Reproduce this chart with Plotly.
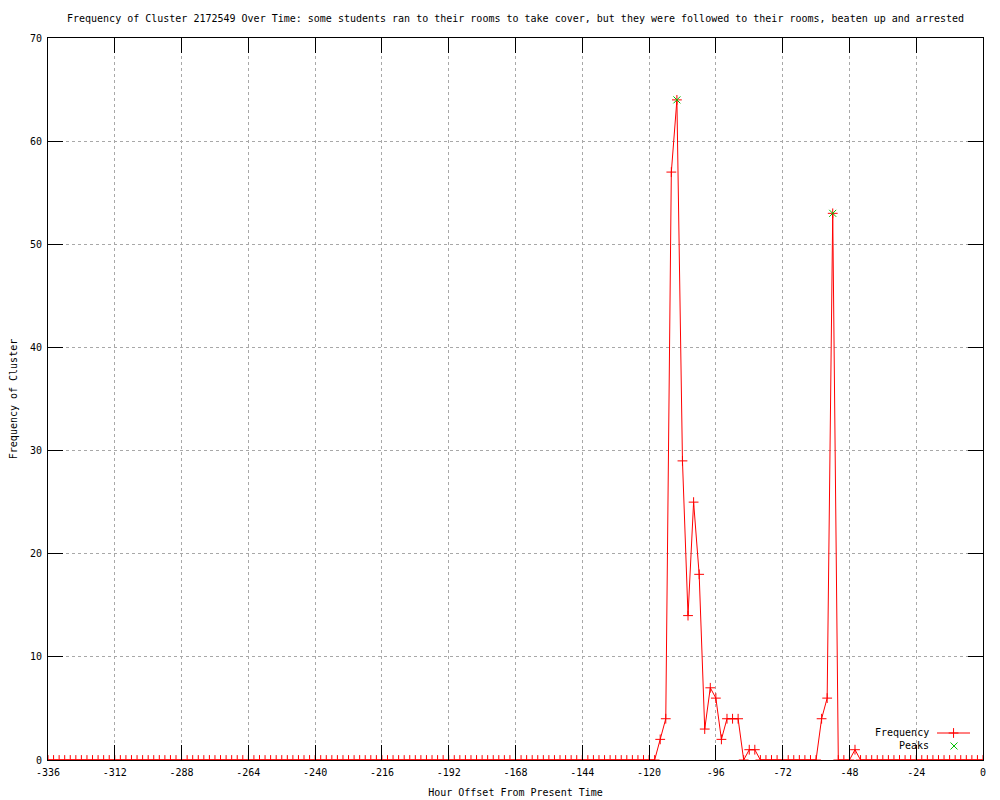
import plotly.graph_objects as go

# ---- data ----
hours = list(range(-336, 1, 2))  # one sample every 2 hours, -336 .. 0
frequency = [
    0, 0, 0, 0, 0, 0, 0, 0, 0, 0,   # -336 .. -318
    0, 0, 0, 0, 0, 0, 0, 0, 0, 0,   # -316 .. -298
    0, 0, 0, 0, 0, 0, 0, 0, 0, 0,   # -296 .. -278
    0, 0, 0, 0, 0, 0, 0, 0, 0, 0,   # -276 .. -258
    0, 0, 0, 0, 0, 0, 0, 0, 0, 0,   # -256 .. -238
    0, 0, 0, 0, 0, 0, 0, 0, 0, 0,   # -236 .. -218
    0, 0, 0, 0, 0, 0, 0, 0, 0, 0,   # -216 .. -198
    0, 0, 0, 0, 0, 0, 0, 0, 0, 0,   # -196 .. -178
    0, 0, 0, 0, 0, 0, 0, 0, 0, 0,   # -176 .. -158
    0, 0, 0, 0, 0, 0, 0, 0, 0, 0,   # -156 .. -138
    0, 0, 0, 0, 0, 0, 0, 0, 0, 0,   # -136 .. -118
    2, 4, 57, 64, 29, 14, 25, 18, 3, 7,   # -116 .. -98
    6, 2, 4, 4, 4, 0, 1, 1, 0, 0,   # -96 .. -78
    0, 0, 0, 0, 0, 0, 0, 0, 0, 4,   # -76 .. -58
    6, 53, 0, 0, 0, 1, 0, 0, 0, 0,  # -56 .. -38
    0, 0, 0, 0, 0, 0, 0, 0, 0, 0,   # -36 .. -18
    0, 0, 0, 0, 0, 0, 0, 0, 0,      # -16 .. 0
]
peak_hours = [-110, -54]
peak_values = [64, 53]

x_ticks = [-336, -312, -288, -264, -240, -216, -192, -168, -144, -120, -96, -72, -48, -24, 0]
x_tick_labels = [str(v) for v in x_ticks]
y_ticks = [0, 10, 20, 30, 40, 50, 60, 70]
y_tick_labels = [str(v) for v in y_ticks]

title_text = ("Frequency of Cluster 2172549 Over Time: some students ran to their rooms "
              "to take cover, but they were followed to their rooms, beaten up and arrested")

FONT = "DejaVu Sans Mono"
RED = "#ff0000"
GREEN = "#00c000"

# page has an 8px body margin, so the figure is 992x792 to fill the 1000x800 window
W, H = 992, 792

fig = go.Figure()

fig.add_trace(go.Scatter(
    x=hours, y=frequency, mode="lines+markers", name="Frequency",
    line=dict(color=RED, width=1),
    marker=dict(symbol="cross-thin", size=7, line=dict(color=RED, width=1), color=RED),
    showlegend=False,
))
fig.add_trace(go.Scatter(
    x=peak_hours, y=peak_values, mode="markers", name="Peaks",
    marker=dict(symbol="x-thin", size=7, line=dict(color=GREEN, width=1), color=GREEN),
    showlegend=False,
))

# ---- gnuplot-style key (text left, sample right) on an overlay paper-like axis ----
fig.add_trace(go.Scatter(
    x=[0.9508, 0.9861], y=[0.0374, 0.0374], mode="lines",
    line=dict(color=RED, width=1), xaxis="x2", yaxis="y2", showlegend=False, hoverinfo="skip",
))
fig.add_trace(go.Scatter(
    x=[0.9685], y=[0.0374], mode="markers",
    marker=dict(symbol="cross-thin", size=7, line=dict(color=RED, width=1)),
    xaxis="x2", yaxis="y2", showlegend=False, hoverinfo="skip",
))
fig.add_trace(go.Scatter(
    x=[0.969], y=[0.0194], mode="markers",
    marker=dict(symbol="x-thin", size=7, line=dict(color=GREEN, width=1)),
    xaxis="x2", yaxis="y2", showlegend=False, hoverinfo="skip",
))

axis_common = dict(
    showline=True, linecolor="black", linewidth=1, mirror="allticks",
    ticks="inside", ticklen=15, tickcolor="black", tickwidth=1,
    showgrid=True, gridcolor="#a8a8a8", gridwidth=1, griddash="dot",
    zeroline=False, layer="above traces", automargin=False,
    tickfont=dict(family=FONT, size=10, color="black"),
)

fig.update_layout(
    width=W, height=H,
    margin=dict(l=40, r=17, t=30, b=40),
    paper_bgcolor="white", plot_bgcolor="white",
    font=dict(family=FONT, size=10, color="black"),
    title=dict(text=title_text, x=0.5, xanchor="center", xref="paper",
               y=1 - 10 / H, yref="container", yanchor="middle",
               font=dict(family=FONT, size=10, color="black")),
    xaxis=dict(range=[-336, 0], tickvals=x_ticks, ticktext=x_tick_labels,
               ticklabelstandoff=3,
               title=dict(text="Hour Offset From Present Time", standoff=11,
                          font=dict(family=FONT, size=10)),
               **axis_common),
    yaxis=dict(range=[0, 70], tickvals=y_ticks, ticktext=y_tick_labels,
               ticklabelstandoff=3,
               title=dict(text="Frequency of Cluster", standoff=10,
                          font=dict(family=FONT, size=10)),
               **axis_common),
    xaxis2=dict(overlaying="x", range=[0, 1], visible=False, fixedrange=True),
    yaxis2=dict(overlaying="y", range=[0, 1], visible=False, fixedrange=True),
    annotations=[
        dict(text="Frequency", xref="paper", yref="paper", x=0.9444, y=0.0374,
             xanchor="right", yanchor="middle", showarrow=False,
             font=dict(family=FONT, size=10, color="black")),
        dict(text="Peaks", xref="paper", yref="paper", x=0.9444, y=0.0194,
             xanchor="right", yanchor="middle", showarrow=False,
             font=dict(family=FONT, size=10, color="black")),
    ],
)

fig.write_html("out.html")
